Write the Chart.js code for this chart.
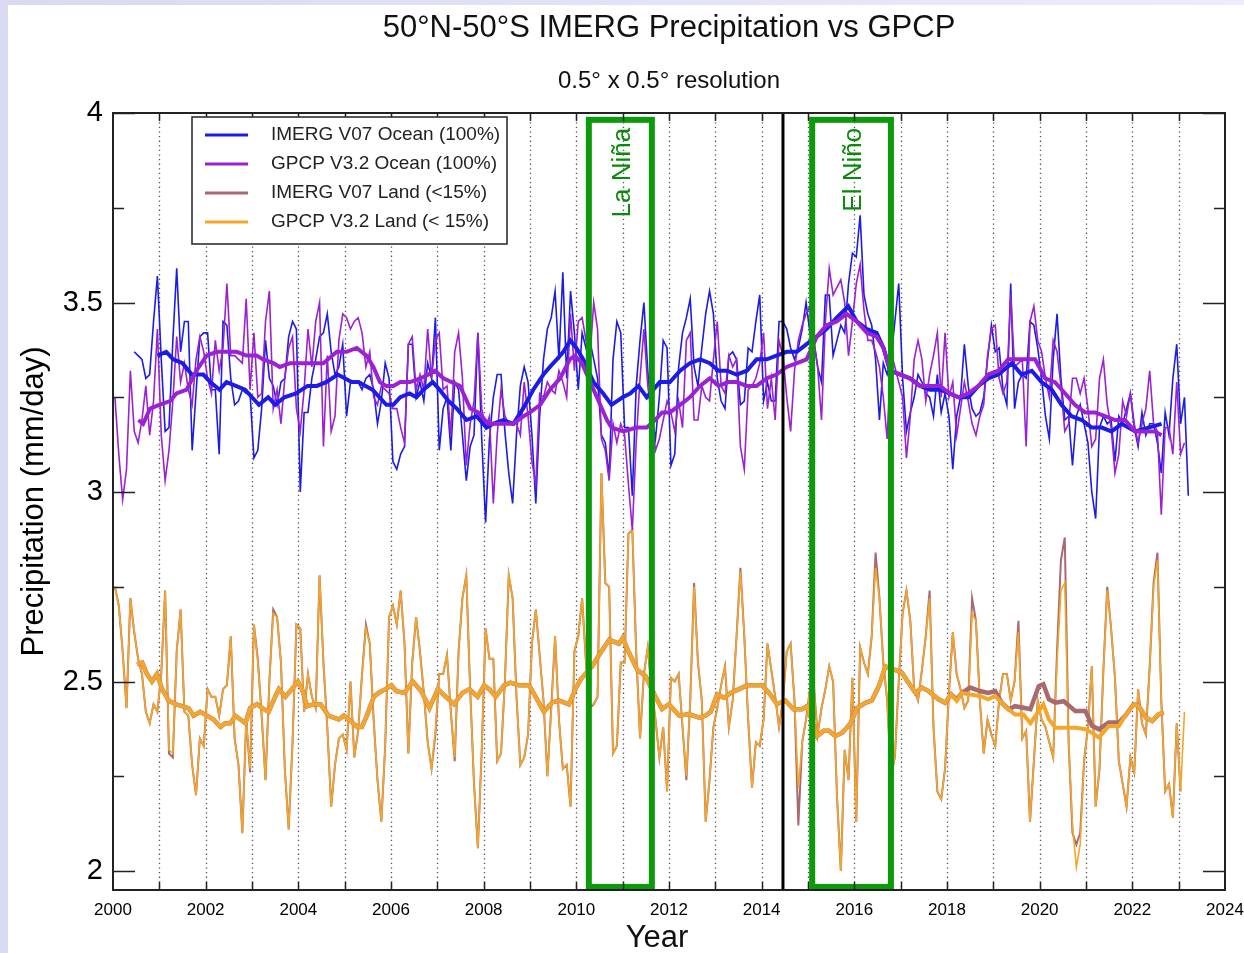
<!DOCTYPE html>
<html>
<head>
<meta charset="utf-8">
<script src="https://cdn.jsdelivr.net/npm/chart.js@4/dist/chart.umd.min.js"></script>
<style>
  html, body { margin: 0; padding: 0; }
  body { width: 1244px; height: 953px; position: relative; overflow: hidden;
         background: linear-gradient(90deg, #d9d9f3, #ececfa); }
  #paper { position: absolute; left: 8px; top: 5px; right: 0; bottom: 0; background: #fff; }
  #chart { position: absolute; left: 0; top: 0; }
</style>
</head>
<body>
<div id="paper"></div>
<canvas id="chart" width="1244" height="953"></canvas>
<script>
// monthly values, one row per year (mm/day)
const imergOceanStart = 2000 + 5 / 12;   // June 2000
const imergOcean = [
  3.37, 3.36, 3.35, 3.30, 3.31, 3.45, 3.57,
  3.35, 3.16, 3.17, 3.40, 3.59, 3.37, 3.45, 3.45, 3.11, 3.26, 3.41, 3.42,
  3.42, 3.27, 3.27, 3.10, 3.45, 3.44, 3.30, 3.23, 3.24, 3.27, 3.26, 3.26,
  3.09, 3.11, 3.22, 3.40, 3.30, 3.28, 3.23, 3.29, 3.30, 3.41, 3.45, 3.43,
  3.00, 3.21, 3.21, 3.30, 3.35, 3.41, 3.42, 3.47, 3.37, 3.31, 3.33, 3.39,
  3.20, 3.29, 3.29, 3.29, 3.27, 3.30, 3.31, 3.27, 3.18, 3.24, 3.34, 3.30,
  3.08, 3.06, 3.10, 3.12, 3.39, 3.39, 3.25, 3.29, 3.24, 3.34, 3.30, 3.46,
  3.11, 3.22, 3.25, 3.11, 3.29, 3.27, 3.15, 3.03, 3.12, 3.15, 3.42, 3.14,
  2.92, 3.14, 3.25, 3.31, 3.31, 3.16, 3.05, 2.97, 3.15, 3.28, 3.33, 3.29,
  3.15, 2.97, 3.20, 3.35, 3.43, 3.46, 3.53, 3.35, 3.58, 3.30, 3.53, 3.42,
  3.27, 3.42, 3.38, 3.40, 3.35, 3.30, 3.15, 3.13, 3.04, 3.35, 3.45, 3.42,
  3.17, 3.17, 2.99, 3.28, 3.40, 3.50, 3.32, 3.20, 3.14, 3.25, 3.40, 3.38,
  3.07, 3.10, 3.33, 3.42, 3.46, 3.51, 3.33, 3.28, 3.38, 3.47, 3.53, 3.47,
  3.30, 3.24, 3.22, 3.36, 3.37, 3.35, 3.23, 3.24, 3.38, 3.37, 3.45, 3.52,
  3.24, 3.29, 3.24, 3.24, 3.45, 3.45, 3.43, 3.38, 3.35, 3.38, 3.43, 3.50,
  3.42, 3.40, 3.33, 3.29, 3.52, 3.52, 3.36, 3.40, 3.44, 3.42, 3.55, 3.63,
  3.62, 3.73, 3.52, 3.47, 3.44, 3.35, 3.19, 3.34, 3.31, 3.35, 3.45, 3.55,
  3.30, 3.16, 3.21, 3.25, 3.31, 3.29, 3.26, 3.25, 3.20, 3.31, 3.21, 3.26,
  3.20, 3.06, 3.20, 3.25, 3.39, 3.28, 3.22, 3.20, 3.21, 3.25, 3.35, 3.44,
  3.37, 3.38, 3.27, 3.23, 3.55, 3.22, 3.29, 3.31, 3.30, 3.45, 3.44, 3.38,
  3.30, 3.20, 3.14, 3.35, 3.47, 3.30, 3.19, 3.20, 3.07, 3.20, 3.23, 3.18,
  3.13, 3.00, 2.93, 3.17, 3.20, 3.18, 3.19, 3.08, 3.20, 3.18, 3.22, 3.26,
  3.17, 3.12, 3.21, 3.15, 3.18, 3.18, 3.13, 3.05, 3.21, 3.15, 3.30, 3.39,
  3.18, 3.25, 2.99
];

const gpcpOceanStart = 2000;
const gpcpOcean = [
  3.25, 3.10, 2.98, 3.06, 3.32, 3.16, 3.13, 3.19, 3.28, 3.15, 3.24, 3.43,
  3.15, 3.03, 3.11, 3.24, 3.41, 3.29, 3.34, 3.27, 3.23, 3.35, 3.41, 3.37,
  3.30, 3.26, 3.40, 3.32, 3.38, 3.55, 3.36, 3.36, 3.35, 3.34, 3.51, 3.27,
  3.42, 3.25, 3.26, 3.45, 3.53, 3.22, 3.27, 3.18, 3.30, 3.38, 3.41, 3.22,
  3.16, 3.27, 3.43, 3.33, 3.45, 3.50, 3.12, 3.36, 3.16, 3.20, 3.40, 3.47,
  3.46, 3.43, 3.45, 3.46, 3.42, 3.33, 3.37, 3.25, 3.23, 3.28, 3.27, 3.26,
  3.22, 3.22, 3.17, 3.13, 3.39, 3.41, 3.27, 3.31, 3.27, 3.43, 3.30, 3.40,
  3.42, 3.27, 3.28, 3.15, 3.37, 3.42, 3.30, 3.07, 3.18, 3.24, 3.42, 3.22,
  3.17, 3.20, 2.97, 3.15, 3.27, 3.20, 3.18, 3.18, 3.18, 3.15, 3.29, 3.20,
  3.08, 3.02, 3.26, 3.25, 3.29, 3.27, 3.26, 3.32, 3.29, 3.25, 3.47, 3.32,
  3.45, 3.46, 3.40, 3.35, 3.50, 3.43, 3.14, 3.11, 3.03, 3.18, 3.13, 3.18,
  3.15, 3.02, 2.90, 3.13, 3.30, 3.43, 3.28, 3.20, 3.11, 3.14, 3.19, 3.24,
  3.21, 3.16, 3.24, 3.17, 3.40, 3.42, 3.19, 3.19, 3.28, 3.25, 3.24, 3.35,
  3.45, 3.28, 3.26, 3.36, 3.33, 3.35, 3.12, 3.06, 3.27, 3.28, 3.30, 3.34,
  3.42, 3.22, 3.30, 3.19, 3.40, 3.36, 3.25, 3.16, 3.32, 3.40, 3.44, 3.47,
  3.49, 3.40, 3.33, 3.19, 3.45, 3.59, 3.52, 3.54, 3.56, 3.50, 3.36, 3.45,
  3.55, 3.60, 3.48, 3.40, 3.40, 3.37, 3.33, 3.25, 3.14, 3.37, 3.33, 3.29,
  3.25, 3.09, 3.20, 3.35, 3.40, 3.35, 3.24, 3.31, 3.36, 3.42, 3.25, 3.42,
  3.25, 3.29, 3.15, 3.22, 3.29, 3.24, 3.18, 3.15, 3.20, 3.23, 3.36, 3.43,
  3.44, 3.30, 3.26, 3.29, 3.52, 3.33, 3.34, 3.35, 3.12, 3.45, 3.49, 3.40,
  3.37, 3.30, 3.25, 3.40, 3.37, 3.28, 3.16, 3.18, 3.30, 3.30, 3.26, 3.30,
  3.22, 3.12, 3.14, 3.30, 3.35, 3.23, 3.17, 3.05, 3.10, 3.24, 3.20, 3.26,
  3.18, 3.13, 3.18, 3.22, 3.32, 3.18, 3.16, 2.94, 3.17, 3.17, 3.10, 3.29,
  3.10, 3.13
];

const gpcpLandStart = 2000;
const gpcpLand = [
  2.75, 2.70, 2.58, 2.43, 2.72, 2.63, 2.56, 2.52, 2.42, 2.39, 2.44, 2.42,
  2.52, 2.74, 2.32, 2.31, 2.58, 2.69, 2.42, 2.41, 2.28, 2.20, 2.35, 2.33,
  2.48, 2.46, 2.46, 2.41, 2.48, 2.49, 2.62, 2.35, 2.28, 2.10, 2.40, 2.27,
  2.65, 2.55, 2.41, 2.24, 2.50, 2.68, 2.67, 2.55, 2.27, 2.11, 2.34, 2.65,
  2.64, 2.42, 2.52, 2.46, 2.43, 2.78, 2.55, 2.38, 2.17, 2.28, 2.35, 2.36,
  2.32, 2.50, 2.30, 2.37, 2.52, 2.64, 2.60, 2.40, 2.24, 2.13, 2.33, 2.67,
  2.70, 2.65, 2.74, 2.60, 2.31, 2.55, 2.67, 2.58, 2.47, 2.34, 2.27, 2.37,
  2.52, 2.52, 2.57, 2.42, 2.30, 2.58, 2.72, 2.78, 2.48, 2.23, 2.06, 2.32,
  2.64, 2.56, 2.56, 2.29, 2.31, 2.50, 2.78, 2.72, 2.46, 2.28, 2.30, 2.36,
  2.60, 2.69, 2.57, 2.45, 2.25, 2.42, 2.62, 2.40, 2.27, 2.28, 2.17, 2.58,
  2.62, 2.72, 2.55, 2.44, 2.44, 2.46, 3.05, 2.76, 2.75, 2.31, 2.33, 2.55,
  2.55, 2.89, 2.90, 2.58, 2.35, 2.52, 2.59, 2.48, 2.40, 2.30, 2.38, 2.21,
  2.51, 2.50, 2.52, 2.38, 2.25, 2.45, 2.75, 2.55, 2.45, 2.13, 2.24, 2.38,
  2.43, 2.49, 2.54, 2.38, 2.45, 2.62, 2.79, 2.62, 2.40, 2.22, 2.34, 2.33,
  2.40, 2.60, 2.53, 2.46, 2.38, 2.45, 2.58, 2.60, 2.45, 2.22, 2.34, 2.40,
  2.48, 2.49, 2.36, 2.43, 2.48, 2.54, 2.50, 2.20, 2.00, 2.32, 2.24, 2.51,
  2.13, 2.59, 2.55, 2.52, 2.62, 2.80, 2.72, 2.55, 2.45, 2.25, 2.30, 2.50,
  2.68, 2.74, 2.66, 2.48, 2.45, 2.53, 2.62, 2.72, 2.38, 2.21, 2.19, 2.27,
  2.47, 2.63, 2.52, 2.48, 2.43, 2.45, 2.68, 2.66, 2.45, 2.31, 2.40, 2.36,
  2.33, 2.45, 2.52, 2.52, 2.45, 2.50, 2.63, 2.35, 2.37, 2.13, 2.29, 2.45,
  2.40, 2.38, 2.34, 2.30, 2.55, 2.74, 2.76, 2.34, 2.12, 2.01, 2.07, 2.29,
  2.38, 2.54, 2.17, 2.27, 2.53, 2.74, 2.64, 2.51, 2.29, 2.23, 2.17, 2.30,
  2.26, 2.48, 2.39, 2.36, 2.54, 2.75, 2.82, 2.45, 2.21, 2.23, 2.14, 2.39,
  2.21, 2.42
];

const imergLandStart = 2000;
const imergLand = [
  2.75, 2.70, 2.58, 2.43, 2.72, 2.63, 2.56, 2.52, 2.42, 2.39, 2.44, 2.42,
  2.52, 2.74, 2.31, 2.30, 2.58, 2.69, 2.42, 2.41, 2.28, 2.20, 2.35, 2.33,
  2.48, 2.46, 2.46, 2.41, 2.48, 2.49, 2.62, 2.35, 2.28, 2.10, 2.40, 2.26,
  2.65, 2.56, 2.41, 2.24, 2.50, 2.69, 2.67, 2.55, 2.27, 2.11, 2.34, 2.65,
  2.64, 2.42, 2.52, 2.46, 2.43, 2.78, 2.55, 2.38, 2.17, 2.28, 2.35, 2.36,
  2.32, 2.50, 2.30, 2.37, 2.52, 2.65, 2.60, 2.40, 2.24, 2.13, 2.33, 2.67,
  2.70, 2.65, 2.74, 2.60, 2.31, 2.55, 2.67, 2.58, 2.47, 2.34, 2.27, 2.36,
  2.52, 2.52, 2.57, 2.42, 2.29, 2.58, 2.72, 2.78, 2.48, 2.23, 2.06, 2.32,
  2.64, 2.56, 2.56, 2.29, 2.31, 2.50, 2.78, 2.72, 2.46, 2.28, 2.30, 2.36,
  2.60, 2.69, 2.57, 2.45, 2.25, 2.43, 2.62, 2.40, 2.27, 2.28, 2.17, 2.58,
  2.62, 2.72, 2.55, 2.43, 2.44, 2.46, 3.05, 2.76, 2.75, 2.31, 2.33, 2.55,
  2.55, 2.89, 2.90, 2.58, 2.35, 2.52, 2.59, 2.48, 2.40, 2.30, 2.38, 2.21,
  2.51, 2.50, 2.52, 2.38, 2.24, 2.45, 2.76, 2.55, 2.45, 2.13, 2.24, 2.38,
  2.43, 2.49, 2.54, 2.38, 2.45, 2.62, 2.80, 2.62, 2.40, 2.22, 2.34, 2.33,
  2.40, 2.60, 2.53, 2.46, 2.38, 2.45, 2.58, 2.60, 2.45, 2.12, 2.34, 2.40,
  2.48, 2.49, 2.36, 2.43, 2.48, 2.54, 2.50, 2.20, 2.00, 2.32, 2.24, 2.51,
  2.13, 2.59, 2.55, 2.52, 2.62, 2.84, 2.72, 2.55, 2.45, 2.25, 2.30, 2.50,
  2.68, 2.74, 2.66, 2.48, 2.45, 2.53, 2.62, 2.74, 2.38, 2.21, 2.19, 2.27,
  2.47, 2.63, 2.52, 2.48, 2.43, 2.45, 2.72, 2.66, 2.45, 2.31, 2.40, 2.36,
  2.33, 2.45, 2.52, 2.52, 2.45, 2.50, 2.66, 2.35, 2.37, 2.13, 2.29, 2.45,
  2.40, 2.38, 2.34, 2.30, 2.58, 2.82, 2.88, 2.34, 2.10, 2.07, 2.10, 2.29,
  2.38, 2.54, 2.17, 2.27, 2.53, 2.75, 2.64, 2.51, 2.29, 2.23, 2.17, 2.30,
  2.26, 2.48, 2.39, 2.36, 2.54, 2.76, 2.84, 2.45, 2.21, 2.23, 2.14, 2.39,
  2.21
];

// 12-month running means, [year, mm/day]
const imergOceanSmooth = [
  [2000.96,3.36],[2001.15,3.37],[2001.3,3.35],[2001.5,3.34],[2001.7,3.31],[2001.95,3.31],
  [2002.1,3.29],[2002.3,3.27],[2002.45,3.29],[2002.65,3.28],[2002.85,3.27],[2003.0,3.25],
  [2003.15,3.23],[2003.35,3.25],[2003.5,3.23],[2003.7,3.25],[2003.95,3.26],[2004.2,3.28],
  [2004.4,3.28],[2004.6,3.29],[2004.85,3.31],[2005.0,3.30],[2005.15,3.29],[2005.3,3.29],
  [2005.45,3.28],[2005.6,3.27],[2005.75,3.25],[2005.9,3.23],[2006.05,3.23],[2006.2,3.25],
  [2006.4,3.26],[2006.55,3.25],[2006.7,3.27],[2006.9,3.29],[2007.05,3.27],[2007.24,3.24],
  [2007.42,3.22],[2007.63,3.19],[2007.85,3.20],[2008.06,3.17],[2008.2,3.18],[2008.42,3.19],
  [2008.64,3.18],[2008.85,3.22],[2009.07,3.27],[2009.29,3.31],[2009.43,3.33],[2009.58,3.35],
  [2009.72,3.37],[2009.87,3.40],[2010.0,3.38],[2010.15,3.35],[2010.37,3.29],[2010.58,3.26],
  [2010.76,3.23],[2011.0,3.25],[2011.16,3.26],[2011.34,3.28],[2011.52,3.25],[2011.8,3.29],
  [2012.02,3.29],[2012.24,3.32],[2012.45,3.34],[2012.67,3.35],[2012.88,3.34],[2013.07,3.32],
  [2013.25,3.32],[2013.46,3.31],[2013.68,3.32],[2013.89,3.35],[2014.11,3.35],[2014.32,3.36],
  [2014.54,3.37],[2014.76,3.37],[2014.97,3.39],[2015.19,3.41],[2015.4,3.43],[2015.62,3.46],
  [2015.87,3.49],[2016.05,3.45],[2016.27,3.43],[2016.48,3.42],[2016.63,3.38],[2016.77,3.32],
  [2017.0,3.31],[2017.2,3.30],[2017.42,3.28],[2017.63,3.27],[2017.85,3.27],[2018.06,3.26],
  [2018.25,3.25],[2018.46,3.25],[2018.68,3.28],[2018.89,3.30],[2019.11,3.31],[2019.4,3.34],
  [2019.61,3.31],[2019.83,3.32],[2020.04,3.29],[2020.26,3.27],[2020.47,3.23],[2020.69,3.20],
  [2020.91,3.19],[2021.12,3.17],[2021.34,3.17],[2021.55,3.16],[2021.77,3.18],[2022.06,3.16],
  [2022.35,3.17],[2022.63,3.18]
];

const gpcpOceanSmooth = [
  [2000.55,3.19],[2000.65,3.18],[2000.8,3.22],[2001.0,3.23],[2001.23,3.24],[2001.37,3.26],
  [2001.59,3.27],[2001.8,3.32],[2002.02,3.36],[2002.24,3.37],[2002.45,3.37],[2002.67,3.37],
  [2002.88,3.36],[2003.1,3.36],[2003.24,3.35],[2003.46,3.34],[2003.6,3.33],[2003.82,3.34],
  [2004.0,3.34],[2004.25,3.34],[2004.54,3.34],[2004.83,3.37],[2005.04,3.37],[2005.26,3.38],
  [2005.47,3.36],[2005.62,3.33],[2005.76,3.29],[2005.9,3.28],[2006.05,3.28],[2006.2,3.29],
  [2006.41,3.29],[2006.63,3.30],[2006.81,3.31],[2006.95,3.32],[2007.13,3.30],[2007.31,3.29],
  [2007.49,3.28],[2007.71,3.22],[2007.88,3.21],[2008.1,3.18],[2008.28,3.18],[2008.42,3.18],
  [2008.64,3.18],[2008.86,3.20],[2009.0,3.21],[2009.22,3.23],[2009.43,3.27],[2009.65,3.30],
  [2009.86,3.35],[2009.97,3.36],[2010.12,3.34],[2010.3,3.29],[2010.48,3.24],[2010.66,3.19],
  [2010.76,3.17],[2011.02,3.16],[2011.3,3.17],[2011.52,3.17],[2011.7,3.19],[2011.85,3.21],
  [2012.02,3.21],[2012.24,3.23],[2012.45,3.25],[2012.67,3.28],[2012.88,3.30],[2013.07,3.28],
  [2013.28,3.29],[2013.46,3.29],[2013.68,3.28],[2013.89,3.28],[2014.11,3.30],[2014.32,3.31],
  [2014.54,3.33],[2014.76,3.34],[2014.97,3.35],[2015.19,3.41],[2015.4,3.44],[2015.62,3.45],
  [2015.83,3.47],[2016.05,3.45],[2016.27,3.42],[2016.48,3.41],[2016.63,3.38],[2016.77,3.32],
  [2016.99,3.31],[2017.2,3.30],[2017.42,3.28],[2017.63,3.28],[2017.85,3.28],[2018.06,3.26],
  [2018.25,3.25],[2018.46,3.26],[2018.68,3.28],[2018.89,3.31],[2019.11,3.32],[2019.32,3.35],
  [2019.54,3.35],[2019.76,3.35],[2019.9,3.35],[2020.12,3.30],[2020.33,3.29],[2020.55,3.26],
  [2020.76,3.23],[2020.98,3.21],[2021.19,3.21],[2021.41,3.20],[2021.63,3.19],[2021.84,3.19],
  [2022.06,3.16],[2022.27,3.16],[2022.49,3.16],[2022.63,3.15]
];

// land running means: both products agree until 2018
const landSmoothShared = [
  [2000.52,2.545],[2000.63,2.55],[2000.73,2.52],[2000.84,2.50],[2000.95,2.52],[2001.06,2.48],
  [2001.2,2.45],[2001.35,2.44],[2001.49,2.435],[2001.63,2.43],[2001.74,2.41],[2001.88,2.42],
  [2002.03,2.41],[2002.17,2.40],[2002.32,2.38],[2002.42,2.39],[2002.53,2.39],[2002.64,2.41],
  [2002.75,2.40],[2002.86,2.39],[2002.96,2.43],[2003.11,2.44],[2003.22,2.43],[2003.36,2.42],
  [2003.5,2.46],[2003.58,2.48],[2003.72,2.46],[2003.86,2.48],[2003.99,2.50],[2004.08,2.48],
  [2004.19,2.435],[2004.33,2.44],[2004.48,2.44],[2004.65,2.41],[2004.87,2.40],[2004.98,2.41],
  [2005.09,2.40],[2005.27,2.38],[2005.37,2.38],[2005.48,2.41],[2005.63,2.46],[2005.73,2.47],
  [2005.88,2.48],[2006.01,2.49],[2006.11,2.475],[2006.29,2.47],[2006.47,2.50],[2006.65,2.475],
  [2006.83,2.43],[2007.01,2.48],[2007.18,2.46],[2007.36,2.44],[2007.54,2.47],[2007.69,2.48],
  [2007.87,2.46],[2008.01,2.49],[2008.12,2.48],[2008.26,2.46],[2008.44,2.49],[2008.58,2.497],
  [2008.76,2.49],[2008.98,2.49],[2009.12,2.46],[2009.3,2.42],[2009.48,2.445],[2009.62,2.45],
  [2009.84,2.44],[2009.98,2.48],[2010.09,2.505],[2010.34,2.54],[2010.49,2.57],[2010.71,2.61],
  [2010.92,2.60],[2011.0,2.615],[2011.14,2.575],[2011.32,2.53],[2011.49,2.515],[2011.71,2.46],
  [2011.85,2.427],[2012.0,2.44],[2012.22,2.41],[2012.43,2.414],[2012.65,2.405],[2012.79,2.41],
  [2012.9,2.42],[2013.04,2.466],[2013.19,2.457],[2013.33,2.47],[2013.51,2.48],[2013.69,2.49],
  [2013.87,2.49],[2014.01,2.49],[2014.16,2.47],[2014.33,2.44],[2014.51,2.45],[2014.69,2.427],
  [2014.87,2.427],[2014.98,2.435],[2015.2,2.356],[2015.34,2.37],[2015.45,2.37],[2015.59,2.356],
  [2015.74,2.365],[2015.92,2.39],[2016.06,2.43],[2016.24,2.444],[2016.38,2.45],[2016.53,2.488],
  [2016.67,2.54],[2016.89,2.53],[2017.03,2.523],[2017.17,2.497],[2017.32,2.47],[2017.46,2.484],
  [2017.6,2.475],[2017.82,2.453],[2017.96,2.444]
];
const gpcpLandSmoothTail = [
  [2018.09,2.466],[2018.21,2.449],[2018.32,2.47],[2018.5,2.466],[2018.71,2.462],[2018.89,2.453],
  [2019.04,2.462],[2019.18,2.444],[2019.33,2.427],[2019.47,2.413],[2019.65,2.413],[2019.8,2.39],
  [2019.98,2.422],[2020.08,2.44],[2020.2,2.40],[2020.34,2.378],[2020.52,2.378],[2020.77,2.378],
  [2020.99,2.374],[2021.13,2.365],[2021.28,2.352],[2021.49,2.383],[2021.71,2.383],[2021.85,2.41],
  [2022.03,2.44],[2022.14,2.435],[2022.29,2.405],[2022.43,2.396],[2022.57,2.414],[2022.68,2.418]
];
const imergLandSmoothTail = [
  [2018.09,2.466],[2018.21,2.453],[2018.32,2.47],[2018.5,2.484],[2018.71,2.475],[2018.89,2.47],
  [2019.04,2.475],[2019.18,2.444],[2019.33,2.427],[2019.47,2.435],[2019.65,2.431],[2019.8,2.427],
  [2019.98,2.488],[2020.08,2.493],[2020.2,2.453],[2020.34,2.444],[2020.52,2.448],[2020.77,2.422],
  [2020.99,2.422],[2021.13,2.383],[2021.28,2.374],[2021.49,2.392],[2021.71,2.392],[2021.85,2.41],
  [2022.03,2.44],[2022.14,2.435],[2022.29,2.405],[2022.43,2.396],[2022.57,2.414],[2022.68,2.418]
];

const seriesNames = ['IMERG V07 Ocean (100%)', 'GPCP V3.2 Ocean (100%)', 'IMERG V07 Land (<15%)', 'GPCP V3.2 Land (< 15%)'];
const seriesColors = ['#1c1ce6', '#9a22d2', '#a86a6e', '#f4a62a'];

const xTicks = [2000, 2002, 2004, 2006, 2008, 2010, 2012, 2014, 2016, 2018, 2020, 2022, 2024];
const yTicks = [2, 2.5, 3, 3.5, 4];

// ENSO boxes (year range) and the V07 marker line
const ensoBoxes = [
  { label: 'La Niña', from: 2010.27, to: 2011.63 },
  { label: 'El Niño', from: 2015.09, to: 2016.79 }
];
const markerYear = 2014.46;

const FONT = '"Liberation Sans", Arial, Helvetica, sans-serif';
Chart.defaults.font.family = FONT;
Chart.defaults.color = '#000';

function monthly(start, values) {
  return values.map((v, i) => ({ x: start + (i + 0.5) / 12, y: v }));
}
function pairs(list) {
  return list.map(p => ({ x: p[0], y: p[1] }));
}
function line(data, color, width, order) {
  return { data, borderColor: color, borderWidth: width, pointRadius: 0, tension: 0, fill: false, order };
}

const chartDecor = {
  id: 'chartDecor',
  beforeDatasetsDraw(chart) {
    const { ctx, chartArea: a, scales: { x } } = chart;
    ctx.save();
    ctx.strokeStyle = '#555';
    ctx.lineWidth = 1.3;
    ctx.setLineDash([1.3, 3.3]);
    for (let yr = 2001; yr < 2024; yr++) {
      const px = Math.round(x.getPixelForValue(yr)) + 0.5;
      ctx.beginPath(); ctx.moveTo(px, a.top); ctx.lineTo(px, a.bottom); ctx.stroke();
    }
    ctx.restore();
  },
  afterDatasetsDraw(chart) {
    const { ctx, chartArea: a, scales: { x, y } } = chart;
    ctx.save();
    // V07 marker
    ctx.strokeStyle = '#000';
    ctx.lineWidth = 3;
    const mx = x.getPixelForValue(markerYear);
    ctx.beginPath(); ctx.moveTo(mx, a.top); ctx.lineTo(mx, a.bottom); ctx.stroke();

    // ENSO boxes
    ctx.strokeStyle = '#0a9a0a';
    ctx.lineWidth = 6;
    const top = y.getPixelForValue(3.982), bot = y.getPixelForValue(1.958);
    ensoBoxes.forEach(b => {
      const x1 = x.getPixelForValue(b.from), x2 = x.getPixelForValue(b.to);
      ctx.strokeRect(x1, top, x2 - x1, bot - top);
      ctx.save();
      ctx.translate((x1 + x2) / 2 + 2, top + 8);
      ctx.rotate(-Math.PI / 2);
      ctx.fillStyle = '#0a8a0a';
      ctx.font = '26px ' + FONT;
      ctx.textAlign = 'right';
      ctx.textBaseline = 'middle';
      ctx.fillText(b.label, 0, 0);
      ctx.restore();
    });

    // frame and inward ticks
    ctx.strokeStyle = '#222';
    ctx.lineWidth = 2;
    ctx.strokeRect(a.left, a.top, a.right - a.left, a.bottom - a.top);
    ctx.lineWidth = 1.5;
    ctx.beginPath();
    for (let v = 2; v <= 4.001; v += 0.25) {
      const py = Math.round(y.getPixelForValue(v)) + 0.5;
      const len = Math.abs(v * 2 - Math.round(v * 2)) < 1e-6 ? 22 : 11;
      ctx.moveTo(a.left, py); ctx.lineTo(a.left + len, py);
      ctx.moveTo(a.right, py); ctx.lineTo(a.right - len, py);
    }
    for (let yr = 2001; yr < 2024; yr++) {
      const px = Math.round(x.getPixelForValue(yr)) + 0.5;
      ctx.moveTo(px, a.top); ctx.lineTo(px, a.top + 8);
      ctx.moveTo(px, a.bottom); ctx.lineTo(px, a.bottom - 8);
    }
    ctx.stroke();
    ctx.restore();
  },
  afterDraw(chart) {
    const { ctx, chartArea: a } = chart;
    ctx.save();
    // titles
    ctx.fillStyle = '#111';
    ctx.textAlign = 'center';
    ctx.textBaseline = 'middle';
    const cx = (a.left + a.right) / 2;
    ctx.font = '31px ' + FONT;
    ctx.fillText('50°N-50°S IMERG Precipitation vs GPCP', cx, 28);
    ctx.font = '24px ' + FONT;
    ctx.fillText('0.5° x 0.5° resolution', cx, 81);
    ctx.font = '31px ' + FONT;
    ctx.fillText('Year', 657, 938);

    // legend
    const lx = 192, ly = 117, lw = 315, lh = 127;
    ctx.fillStyle = '#fff';
    ctx.fillRect(lx, ly, lw, lh);
    ctx.strokeStyle = '#222';
    ctx.lineWidth = 1.5;
    ctx.strokeRect(lx, ly, lw, lh);
    ctx.font = '19px ' + FONT;
    ctx.textAlign = 'left';
    seriesNames.forEach((name, i) => {
      const ry = ly + 18 + i * 29;
      ctx.strokeStyle = seriesColors[i];
      ctx.lineWidth = 3;
      ctx.beginPath(); ctx.moveTo(lx + 13, ry); ctx.lineTo(lx + 56, ry); ctx.stroke();
      ctx.fillStyle = '#222';
      ctx.fillText(name, lx + 79, ry);
    });
    ctx.restore();
  }
};

new Chart(document.getElementById('chart'), {
  type: 'line',
  data: {
    datasets: [
      line(pairs(gpcpOceanSmooth), seriesColors[1], 4, 1),
      line(pairs(imergOceanSmooth), seriesColors[0], 4, 2),
      line(pairs(landSmoothShared.concat(gpcpLandSmoothTail)), seriesColors[3], 4, 3),
      line(pairs(landSmoothShared.concat(imergLandSmoothTail)), seriesColors[2], 4.5, 4),
      line(monthly(gpcpOceanStart, gpcpOcean), seriesColors[1], 1.6, 5),
      line(monthly(imergOceanStart, imergOcean), seriesColors[0], 1.6, 6),
      line(monthly(gpcpLandStart, gpcpLand), seriesColors[3], 1.6, 7),
      line(monthly(imergLandStart, imergLand), seriesColors[2], 2, 8)
    ]
  },
  options: {
    responsive: false,
    animation: false,
    devicePixelRatio: 1,
    layout: { padding: { top: 113, right: 19, left: 0, bottom: 0 } },
    plugins: { legend: { display: false }, tooltip: { enabled: false } },
    scales: {
      x: {
        type: 'linear', min: 2000, max: 2024,
        grid: { display: false, drawTicks: false },
        border: { display: false },
        afterBuildTicks: s => { s.ticks = xTicks.map(v => ({ value: v })); },
        afterFit: s => { s.height = 63; s.paddingLeft = 0; s.paddingRight = 0; },
        ticks: { autoSkip: false, maxRotation: 0, padding: 10, font: { size: 17 }, callback: v => String(v) },
        title: { display: false }
      },
      y: {
        type: 'linear', min: 1.95, max: 4,
        grid: { display: false, drawTicks: false },
        border: { display: false },
        afterBuildTicks: s => { s.ticks = yTicks.map(v => ({ value: v })); },
        afterFit: s => { s.width = 113; s.paddingTop = 0; s.paddingBottom = 0; },
        ticks: { padding: 10, font: { size: 29 }, callback: v => String(v) },
        title: { display: true, text: 'Precipitation (mm/day)', font: { size: 31, lineHeight: 1 }, padding: { top: 19, bottom: 0 } }
      }
    }
  },
  plugins: [chartDecor]
});
</script>
</body>
</html>
